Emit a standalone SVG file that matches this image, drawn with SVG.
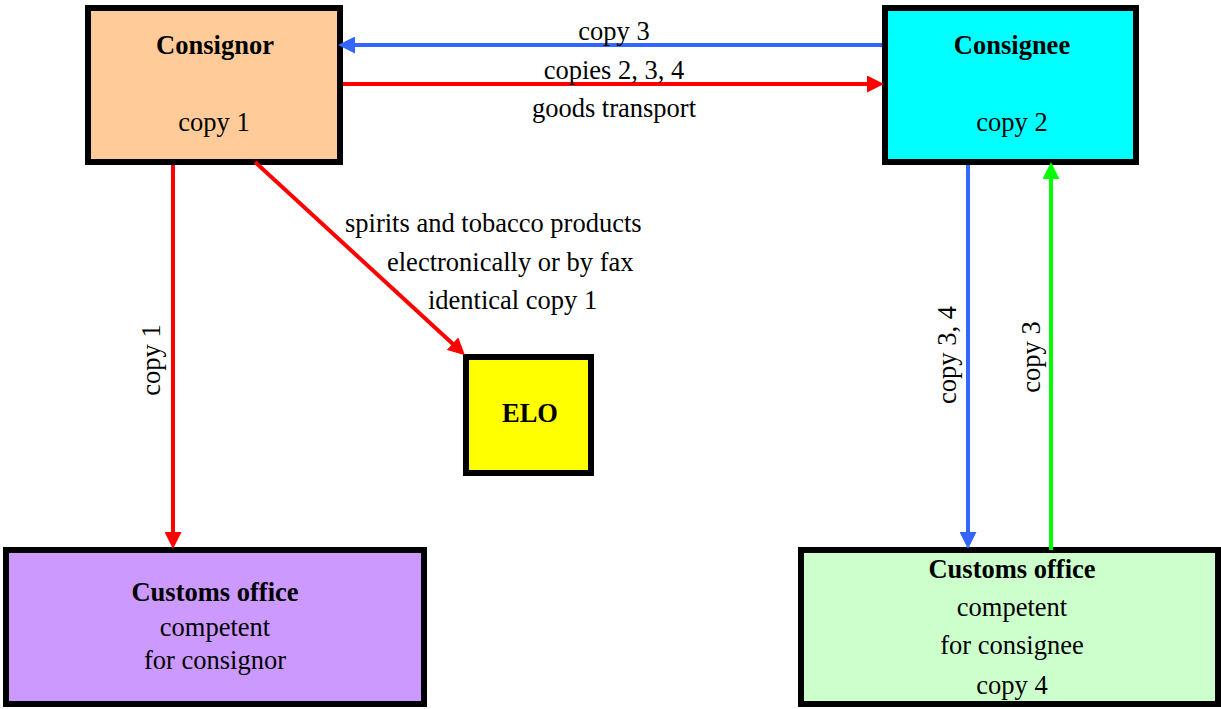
<svg xmlns="http://www.w3.org/2000/svg" width="1221" height="709" viewBox="0 0 1221 709" font-family="'Liberation Serif', Times, serif">
<style>
  .box { stroke: #000; stroke-width: 6; }
  text { font-family: 'Liberation Serif', 'Times New Roman', Times, serif; font-size: 26.5px; fill: #000; }
  .c { text-anchor: middle; }
  .b { font-weight: bold; }
  .edge { stroke-width: 4; fill: none; }
</style>
<defs>
  <marker id="ahRed" markerUnits="userSpaceOnUse" markerWidth="17" markerHeight="17" refX="2" refY="8.5" orient="auto" viewBox="0 0 17 17">
    <path d="M0,0 L17,8.5 L0,17 z" fill="#FF0000"/>
  </marker>
  <marker id="ahBlue" markerUnits="userSpaceOnUse" markerWidth="17" markerHeight="17" refX="2" refY="8.5" orient="auto" viewBox="0 0 17 17">
    <path d="M0,0 L17,8.5 L0,17 z" fill="#3366FF"/>
  </marker>
  <marker id="ahGreen" markerUnits="userSpaceOnUse" markerWidth="17" markerHeight="17" refX="2" refY="8.5" orient="auto" viewBox="0 0 17 17">
    <path d="M0,0 L17,8.5 L0,17 z" fill="#00FF00"/>
  </marker>
</defs>
<rect width="1221" height="709" fill="#fff"/>

<g id="consignor">
  <rect class="box" x="88" y="8" width="252" height="154" fill="#FFCC99"/>
  <text class="c b" x="215" y="54">Consignor</text>
  <text class="c" x="214" y="131">copy 1</text>
</g>
<g id="consignee">
  <rect class="box" x="885" y="8" width="251" height="154" fill="#00FFFF"/>
  <text class="c b" x="1012" y="54">Consignee</text>
  <text class="c" x="1012" y="131">copy 2</text>
</g>
<g id="elo">
  <rect class="box" x="466" y="357" width="125" height="116" fill="#FFFF00"/>
  <text class="c b" x="530" y="422">ELO</text>
</g>
<g id="customs-consignor">
  <rect class="box" x="6" y="550" width="418" height="154" fill="#CC99FF"/>
  <text class="c b" x="215" y="601">Customs office</text>
  <text class="c" x="215" y="636">competent</text>
  <text class="c" x="215" y="669">for consignor</text>
</g>
<g id="customs-consignee">
  <rect class="box" x="801" y="550" width="417" height="154" fill="#CCFFCC"/>
  <text class="c b" x="1012" y="578">Customs office</text>
  <text class="c" x="1012" y="616">competent</text>
  <text class="c" x="1012" y="654">for consignee</text>
  <text class="c" x="1012" y="694">copy 4</text>
</g>

<g id="connectors">
  <line class="edge" x1="882" y1="45" x2="353" y2="45" stroke="#3366FF" marker-end="url(#ahBlue)"/>
  <line class="edge" x1="343" y1="84" x2="869" y2="84" stroke="#FF0000" marker-end="url(#ahRed)"/>
  <line class="edge" x1="173" y1="165" x2="173" y2="534" stroke="#FF0000" marker-end="url(#ahRed)"/>
  <line class="edge" x1="255" y1="162" x2="454" y2="345" stroke="#FF0000" marker-end="url(#ahRed)"/>
  <line class="edge" x1="968" y1="165" x2="968" y2="534" stroke="#3366FF" marker-end="url(#ahBlue)"/>
  <line class="edge" x1="1051" y1="550" x2="1051" y2="177" stroke="#00FF00" marker-end="url(#ahGreen)"/>

  <text class="c" x="614" y="40">copy 3</text>
  <text class="c" x="614" y="79">copies 2, 3, 4</text>
  <text class="c" x="614" y="117">goods transport</text>
  <text x="345" y="232">spirits and tobacco products</text>
  <text x="387" y="271">electronically or by fax</text>
  <text x="428" y="309">identical copy 1</text>
  <text class="c" transform="translate(160,360) rotate(-90)">copy 1</text>
  <text class="c" transform="translate(956,355) rotate(-90)">copy 3, 4</text>
  <text class="c" transform="translate(1040,357) rotate(-90)">copy 3</text>
</g>
</svg>
